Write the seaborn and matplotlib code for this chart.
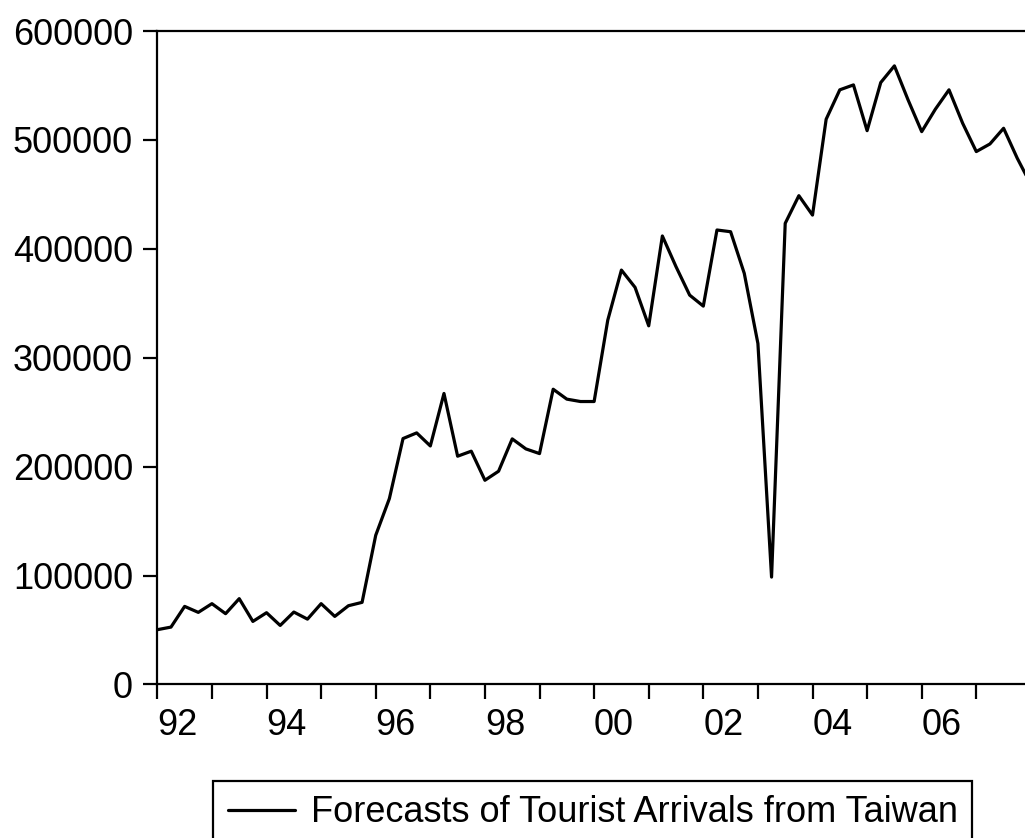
import numpy as np
import pandas as pd
import matplotlib
matplotlib.use("Agg")
import matplotlib.pyplot as plt
import seaborn as sns

# Quarterly series, 1992Q1 onward
start_year = 1992
arrivals = [
    50300, 52700, 71700, 66200,      # 1992
    74200, 65000, 78800, 57900,      # 1993
    65900, 54200, 66500, 60000,      # 1994
    74200, 62500, 72300, 75400,      # 1995
    137000, 170700, 225800, 231000,  # 1996
    219000, 267200, 209600, 214200,  # 1997
    187500, 195800, 225500, 216300,  # 1998
    212000, 271100, 262000, 259800,  # 1999
    259800, 334500, 380500, 364600,  # 2000
    329300, 411800, 383600, 357500,  # 2001
    347400, 417300, 415700, 377500,  # 2002
    313100, 98600, 423400, 448800,   # 2003
    431000, 519000, 546000, 550500,  # 2004
    508500, 552700, 568000, 536800,  # 2005
    507600, 528200, 546000, 515300,  # 2006
    489300, 496300, 510700, 483200,  # 2007
    459000,                          # 2008
]
series_label = "Forecasts of Tourist Arrivals from Taiwan"
tick_years = list(range(1992, 2008))
y_ticks = [0, 100000, 200000, 300000, 400000, 500000, 600000]

df = pd.DataFrame({
    "t": start_year + np.arange(len(arrivals)) / 4.0,
    "arrivals": arrivals,
})

sns.set_style("ticks")
plt.rcParams["font.family"] = ["Liberation Sans", "DejaVu Sans"]

fig = plt.figure(figsize=(10.25, 8.38), dpi=100)
ax = fig.add_axes([0.1535, 0.1832, 0.8465, 0.7798])

sns.lineplot(data=df, x="t", y="arrivals", color="black", linewidth=2.3,
             ax=ax, label=series_label, legend=False)

ax.set_xlim(1992.0, 2007.892)
ax.set_ylim(0, 600000)
ax.set_xlabel("")
ax.set_ylabel("")

ax.set_yticks(y_ticks)
ax.set_yticklabels([str(v) for v in y_ticks])
ax.set_xticks(tick_years)
ax.set_xticklabels([f"{y % 100:02d}" if y % 2 == 0 else "" for y in tick_years],
                   ha="left")

ax.tick_params(axis="both", labelsize=26, colors="black", width=1.6,
               direction="out")
ax.tick_params(axis="x", length=11, pad=6)
ax.tick_params(axis="y", length=10, pad=7.5)

for side in ("left", "top", "bottom"):
    ax.spines[side].set_visible(True)
    ax.spines[side].set_color("black")
    ax.spines[side].set_linewidth(1.6)
ax.spines["right"].set_visible(False)
ax.grid(False)

handles, labels = ax.get_legend_handles_labels()
leg = fig.legend(handles, labels, loc="upper center",
                 bbox_to_anchor=(0.5785, 1 - 781 / 838),
                 fontsize=26, labelcolor="black", frameon=True,
                 framealpha=1.0, fancybox=False, shadow=False,
                 handlelength=1.85, handletextpad=0.45, borderpad=0.4,
                 borderaxespad=0)
leg.get_frame().set_edgecolor("black")
leg.get_frame().set_linewidth(1.6)
leg.get_frame().set_facecolor("white")

fig.savefig("out.png", dpi=100, facecolor="white")
